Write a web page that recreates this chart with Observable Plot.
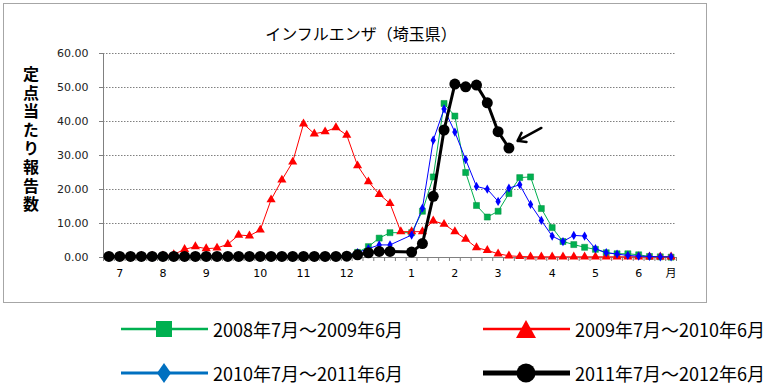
<!DOCTYPE html>
<html><head><meta charset="utf-8">
<script src="https://cdn.jsdelivr.net/npm/d3@7"></script>
<script src="https://cdn.jsdelivr.net/npm/@observablehq/plot@0.6"></script>
<style>
body{margin:0;background:#fff;}
#wrap{position:relative;width:771px;height:387px;overflow:hidden;font-family:"Noto Sans CJK JP",sans-serif;}
#frame{position:absolute;left:3px;top:3px;width:702px;height:298px;border:1px solid #a6a6a6;}
#chart{position:absolute;left:0;top:0;}
#title{position:absolute;left:211px;width:300px;top:22px;line-height:22px;text-align:center;font-size:16px;color:#000;}
#ylab{position:absolute;left:21px;top:66px;writing-mode:vertical-rl;font-size:16px;font-weight:bold;letter-spacing:2.6px;line-height:20px;color:#000;}
.leg{position:absolute;height:24px;display:flex;align-items:center;font-size:18px;color:#000;white-space:nowrap;}
.leg svg{margin-right:4px;}
</style></head>
<body>
<div id="wrap">
  <div id="frame"></div>
  <div id="chart"></div>
  <div id="title">インフルエンザ（埼玉県）</div>
  <div id="ylab">定点当たり報告数</div>
  <div id="legend"></div>
</div>
<script>
// week positions (53 weekly slots, July -> June)
const weeks = d3.range(53);
const monthTickIndex = [1,5,9,14,18,22,28,32,36,41,45,49,52];
const monthTickLabels = ["7","8","9","10","11","12","1","2","3","4","5","6","月"];
const yTicks = [0,10,20,30,40,50,60];

const seriesNames = ["2008年7月～2009年6月","2009年7月～2010年6月","2010年7月～2011年6月","2011年7月～2012年6月"];

// 2008/7 - 2009/6
const s2008 = [0.2,0.2,0.2,0.2,0.2,0.2,0.2,0.2,0.2,0.2,0.2,0.2,0.2,0.2,0.2,0.2,0.2,0.2,0.2,0.2,0.2,0.2,
  0.6,1.5,3.2,5.7,7.3,null,7.3,13.6,23.7,45.3,41.6,25.0,15.3,11.9,13.6,18.8,23.5,23.7,14.4,8.8,4.7,3.8,3.0,2.4,1.4,1.1,1.1,0.8,0.3,0.2,0.1];
// 2009/7 - 2010/6
const s2009 = [0.3,0.3,0.3,0.4,0.4,0.5,0.9,2.4,3.2,2.6,2.8,3.9,6.6,6.4,8.1,17.0,22.8,28.1,39.3,36.4,37.0,38.2,36.0,
  27.0,22.3,18.6,15.9,7.6,7.6,7.6,10.8,9.8,7.6,5.4,2.9,2.1,1.1,0.5,0.3,0.2,0.2,0.2,0.2,0.2,0.2,0.2,0.2,0.2,0.2,0.2,0.2,0.2,0.2];
// 2010/7 - 2011/6
const s2010 = [0.2,0.2,0.2,0.2,0.2,0.2,0.2,0.2,0.2,0.2,0.2,0.2,0.2,0.2,0.2,0.2,0.2,0.2,0.2,0.2,0.2,0.2,
  0.6,1.4,2.6,3.7,3.7,null,6.6,14.5,34.5,43.7,36.9,28.8,20.9,20.1,16.5,20.4,21.4,15.6,10.9,6.3,4.7,6.5,6.3,2.6,1.4,1.0,0.6,0.4,0.3,0.2,0.2];
// 2011/7 - 2012/6
const s2011 = [0.3,0.3,0.3,0.3,0.3,0.3,0.3,0.3,0.3,0.3,0.3,0.3,0.3,0.3,0.3,0.3,0.3,0.3,0.3,0.3,0.3,0.3,
  0.4,0.8,1.4,1.8,1.8,null,1.6,4.1,18.0,37.5,51.0,50.2,50.7,45.5,37.0,32.2,
  null,null,null,null,null,null,null,null,null,null,null,null,null,null,null];

// annotation arrow (week index, value)
const arrowFrom = [40.0, 38.1];
const arrowTo = [37.8, 34.3];

const toRows = (vals) => weeks.map(i => ({i, v: vals[i]})).filter(d => d.v != null);
const g = toRows(s2008), r = toRows(s2009), b = toRows(s2010), k = toRows(s2011);
const boundaries = d3.range(54).map(i => i - 0.5);

const chart = Plot.plot({
  width: 771, height: 305,
  marginLeft: 103, marginRight: 95, marginTop: 53, marginBottom: 48,
  style: {fontFamily: "'DejaVu Sans','Noto Sans CJK JP',sans-serif", fontSize: "11px", background: "transparent", color: "#000"},
  x: {type: "linear", domain: [-0.5, 52.5], axis: null},
  y: {domain: [0, 60], axis: null},
  marks: [
    Plot.gridY(yTicks.slice(1), {stroke: "#808080", strokeOpacity: 1, strokeDasharray: "1.5,1.5"}),
    Plot.axisY({ticks: yTicks, tickSize: 4, tickPadding: 11, tickFormat: d3.format(".2f"), stroke: "#808080", label: null, fill: "#222"}),
    Plot.axisX({ticks: boundaries, tickSize: 4, tickFormat: () => "", stroke: "#808080", label: null}),
    Plot.axisX({ticks: monthTickIndex, tickSize: 0, tickPadding: 12, tickFormat: d => monthTickLabels[monthTickIndex.indexOf(d)], label: null, fill: "#000"}),
    Plot.ruleX([-0.5], {y1: 0, y2: 60, stroke: "#808080"}),
    Plot.ruleY([0], {stroke: "#808080"}),
    Plot.line(g, {x: "i", y: "v", stroke: "#00b050", strokeWidth: 1}),
    Plot.dot(g, {x: "i", y: "v", symbol: "square", r: 3.4, fill: "#00b050", stroke: "#009040", strokeWidth: 0.5}),
    Plot.line(r, {x: "i", y: "v", stroke: "#ff0000", strokeWidth: 1}),
    Plot.dot(r, {x: "i", y: "v", symbol: "triangle", r: 3.4, fill: "#ff0000"}),
    Plot.line(b, {x: "i", y: "v", stroke: "#0000ff", strokeWidth: 1}),
    Plot.dot(b, {x: "i", y: "v", symbol: "diamond", r: 2.8, fill: "#0000ff"}),
    Plot.line(k, {x: "i", y: "v", stroke: "#000", strokeWidth: 3}),
    Plot.dot(k, {x: "i", y: "v", r: 5.5, fill: "#000"}),
    Plot.arrow([{x1: arrowFrom[0], y1: arrowFrom[1], x2: arrowTo[0], y2: arrowTo[1]}],
      {x1: "x1", y1: "y1", x2: "x2", y2: "y2", stroke: "#000", strokeWidth: 2.5, headLength: 9, headAngle: 70})
  ]
});
document.getElementById("chart").appendChild(chart);

// legend
const legendStyle = [
  {left: 121, top: 317, color: "#00b050", width: 2.5, marker: "square"},
  {left: 483, top: 317, color: "#ff0000", width: 2.5, marker: "triangle"},
  {left: 121, top: 361, color: "#0070c0", width: 3, marker: "diamond"},
  {left: 483, top: 361, color: "#000000", width: 5, marker: "circle"}
];
const legend = document.getElementById("legend");
seriesNames.forEach((name, idx) => {
  const st = legendStyle[idx];
  const div = document.createElement("div");
  div.className = "leg";
  div.style.left = st.left + "px";
  div.style.top = st.top + "px";
  let m = "";
  if (st.marker === "square") m = `<rect x="35" y="4" width="16" height="16" fill="${st.color}"/>`;
  if (st.marker === "triangle") m = `<polygon points="43,3 53,21 33,21" fill="${st.color}"/>`;
  if (st.marker === "diamond") m = `<polygon points="43,2 50,12 43,22 36,12" fill="${st.color}"/>`;
  if (st.marker === "circle") m = `<circle cx="43" cy="12" r="9.5" fill="${st.color}"/>`;
  div.innerHTML = `<svg width="88" height="24"><line x1="0" x2="87" y1="12" y2="12" stroke="${st.color}" stroke-width="${st.width}"/>${m}</svg><span>${name}</span>`;
  legend.appendChild(div);
});
</script>
</body></html>
